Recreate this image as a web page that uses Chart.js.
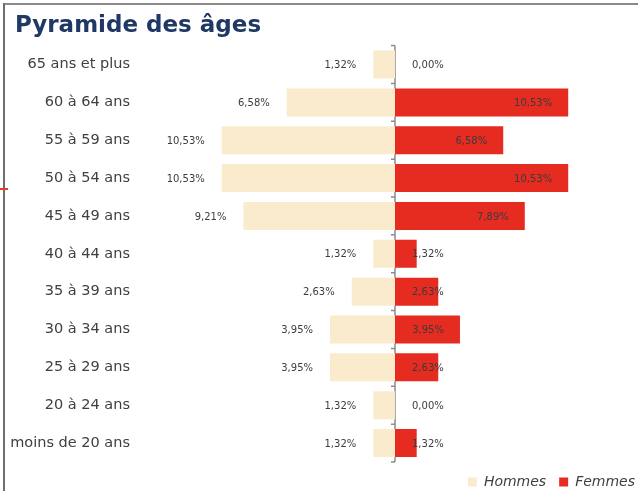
<!DOCTYPE html>
<html>
<head>
<meta charset="utf-8">
<script src="https://cdn.jsdelivr.net/npm/chart.js@4/dist/chart.umd.min.js"></script>
<style>
  html, body { margin: 0; padding: 0; background: #ffffff; overflow: hidden; }
  #wrap { position: relative; width: 638px; height: 491px; overflow: hidden; }
  #c { position: absolute; left: 0; top: 0; }
  #bt { position: absolute; left: 3px; top: 3px; width: 635px; height: 2px; background: #8a8a8a; }
  #bl { position: absolute; left: 3px; top: 3px; width: 2px; height: 488px; background: #6e6e6e; }
  #mk { position: absolute; left: 0px; top: 188px; width: 8px; height: 2px; background: #e8392e; }
</style>
</head>
<body>
<div id="wrap">
  <canvas id="c" width="660" height="499"></canvas>
  <div id="bt"></div>
  <div id="bl"></div>
  <div id="mk"></div>
</div>
<script>
const categories = ["65 ans et plus", "60 à 64 ans", "55 à 59 ans", "50 à 54 ans", "45 à 49 ans",
  "40 à 44 ans", "35 à 39 ans", "30 à 34 ans", "25 à 29 ans", "20 à 24 ans", "moins de 20 ans"];
const hommes = [1.32, 6.58, 10.53, 10.53, 9.21, 1.32, 2.63, 3.95, 3.95, 1.32, 1.32];
const femmes = [0.00, 10.53, 6.58, 10.53, 7.89, 1.32, 2.63, 3.95, 2.63, 0.00, 1.32];
const seriesNames = ["Hommes", "Femmes"];
const titleText = "Pyramide des âges";

const fmt = v => v.toFixed(2).replace('.', ',') + '%';

const catFont = '14.5px "DejaVu Sans"';
const mctx = document.createElement('canvas').getContext('2d');
mctx.font = catFont;
const widestCat = Math.max(...categories.map(c => mctx.measureText(c).width));

const pyramidPlugin = {
  id: 'pyramid',
  beforeDatasetsDraw(chart) {
    const { ctx, chartArea, scales } = chart;
    const x0 = scales.x.getPixelForValue(0);
    const ys = scales.y;
    const n = categories.length;
    const half = (ys.getPixelForValue(1) - ys.getPixelForValue(0)) / 2;
    ctx.save();
    ctx.strokeStyle = '#8c8c8c';
    ctx.lineWidth = 1.5;
    ctx.beginPath();
    ctx.moveTo(x0, chartArea.top);
    ctx.lineTo(x0, chartArea.bottom);
    for (let i = 0; i <= n; i++) {
      const yb = (i < n) ? ys.getPixelForValue(i) - half : ys.getPixelForValue(n - 1) + half;
      ctx.moveTo(x0 - 4, yb);
      ctx.lineTo(x0, yb);
    }
    ctx.stroke();
    ctx.restore();
  },
  afterDatasetsDraw(chart) {
    const { ctx, scales } = chart;
    const x0 = scales.x.getPixelForValue(0);
    ctx.save();
    ctx.font = '10px "DejaVu Sans"';
    ctx.fillStyle = '#3c3c3c';
    ctx.textBaseline = 'middle';
    ctx.textAlign = 'right';
    chart.getDatasetMeta(0).data.forEach((el, i) => {
      const t = fmt(hommes[i]);
      ctx.fillText(t, el.x - 17, el.y + 1);
    });
    chart.getDatasetMeta(1).data.forEach((el, i) => {
      const t = fmt(femmes[i]);
      const w = ctx.measureText(t).width;
      const right = Math.max(el.x - 16, x0 + 17 + w);
      ctx.fillText(t, right, el.y + 1);
    });
    ctx.restore();
  }
};

new Chart(document.getElementById('c'), {
  type: 'bar',
  data: {
    labels: categories,
    datasets: [
      { label: seriesNames[0], data: hommes.map(v => -v), backgroundColor: '#FAEBCD', borderWidth: 0 },
      { label: seriesNames[1], data: femmes, backgroundColor: '#E62B21', borderWidth: 0 }
    ]
  },
  options: {
    indexAxis: 'y',
    responsive: false,
    animation: false,
    events: [],
    layout: { padding: { left: 15, right: 12, top: 0, bottom: 0 } },
    datasets: { bar: { categoryPercentage: 1.0, barPercentage: 0.74 } },
    scales: {
      x: {
        display: false,
        stacked: true,
        min: -15.5,
        max: 15.38
      },
      y: {
        stacked: true,
        afterFit: s => { s.width = 125; },
        grid: { display: false, drawTicks: false },
        border: { display: false },
        ticks: {
          mirror: true,
          crossAlign: 'far',
          padding: -(10 + widestCat),
          color: '#404040',
          font: { family: '"DejaVu Sans"', size: 14.5 }
        }
      }
    },
    plugins: {
      tooltip: { enabled: false },
      title: {
        display: true,
        text: titleText,
        align: 'start',
        color: '#1F3864',
        font: { family: '"DejaVu Sans"', size: 23, weight: 'bold', lineHeight: 1.2 },
        padding: { top: 12, bottom: 6 }
      },
      legend: {
        position: 'bottom',
        align: 'end',
        labels: {
          boxWidth: 9,
          boxHeight: 9,
          padding: 13,
          color: '#404040',
          font: { family: '"DejaVu Sans"', size: 14, style: 'italic' }
        }
      }
    }
  },
  plugins: [pyramidPlugin]
});
</script>
</body>
</html>
